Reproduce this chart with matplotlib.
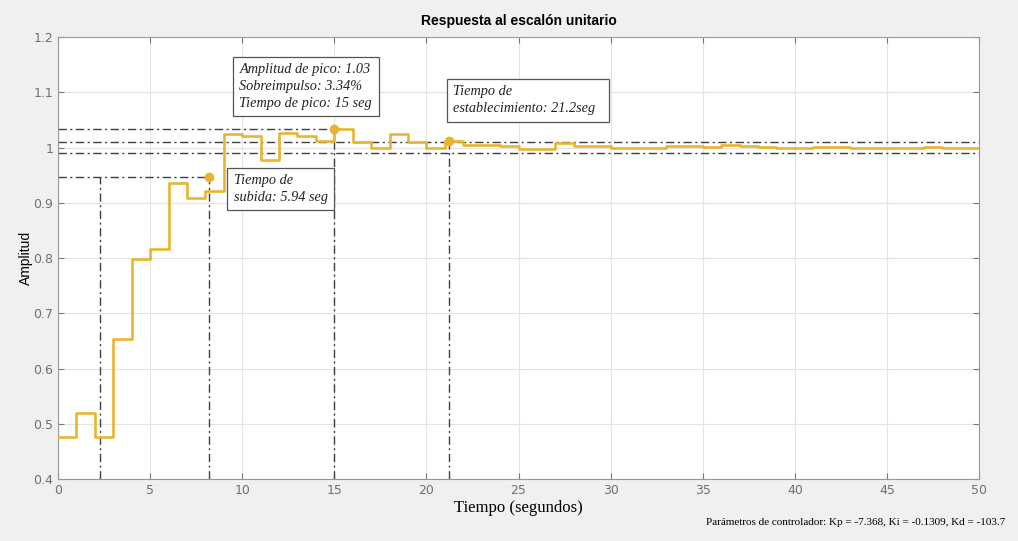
import matplotlib
matplotlib.use("Agg")
import matplotlib.pyplot as plt
import numpy as np

# datos (respuesta discreta, periodo 1 s)
tiempo = np.arange(0, 51, 1)
amplitud = [0.476, 0.519, 0.476, 0.654, 0.798, 0.816, 0.935, 0.908, 0.922, 1.024,
            1.020, 0.977, 1.026, 1.020, 1.011, 1.033, 1.010, 1.000, 1.024, 1.010,
            1.000, 1.011, 1.005, 1.005, 1.003, 0.998, 0.998, 1.008, 1.003, 1.003,
            0.999, 0.999, 0.999, 1.003, 1.002, 1.001, 1.004, 1.002, 1.001, 1.000,
            1.000, 1.001, 1.001, 1.000, 1.000, 0.999, 1.000, 1.001, 1.000, 1.000,
            1.000]

t_subida = [2.28, 8.2]
y_subida = 0.947
t_pico = 15
y_pico = 1.033
t_estab = 21.2
y_estab = 1.011
banda = [0.99, 1.01]

xticks = np.arange(0, 51, 5)
yticks = np.round(np.arange(0.4, 1.21, 0.1), 1)

color = "#E9B530"
gris = "#404040"
bg = "#f0f0f0"

fig = plt.figure(figsize=(10.18, 5.41), dpi=100, facecolor=bg)
ax = fig.add_axes([0.057, 0.1146, 0.9047, 0.817])
ax.set_facecolor("white")

ls = (0, (6, 2.5, 1.5, 2.5))
# lineas de referencia
ax.plot([0, t_subida[1]], [y_subida, y_subida], color=gris, lw=1, ls=ls)
ax.plot([t_subida[0], t_subida[0]], [0.4, y_subida], color=gris, lw=1, ls=ls)
ax.plot([t_subida[1], t_subida[1]], [0.4, y_subida], color=gris, lw=1, ls=ls)
ax.plot([0, t_pico], [y_pico, y_pico], color=gris, lw=1, ls=ls)
ax.plot([t_pico, t_pico], [0.4, y_pico], color=gris, lw=1, ls=ls)
for b in banda:
    ax.plot([0, 50], [b, b], color=gris, lw=1, ls=ls)
ax.plot([t_estab, t_estab], [0.4, y_estab], color=gris, lw=1, ls=ls)

ax.step(tiempo, amplitud, where="post", color=color, lw=1.9, zorder=3)
ax.plot([t_subida[1], t_pico, t_estab], [y_subida, y_pico, y_estab], "o",
        color=color, ms=6, zorder=4)

ax.set_xlim(0, 50)
ax.set_ylim(0.4, 1.2)
ax.set_xticks(xticks)
ax.set_yticks(yticks)
ax.set_yticklabels([f"{v:g}" for v in yticks])
ax.grid(True, color="#e3e3e3", lw=0.8)
ax.set_axisbelow(True)
ax.tick_params(direction="in", top=True, right=True, length=4, color="#777777",
               labelcolor="#707070", labelsize=9)
for s in ax.spines.values():
    s.set_color("#999999")
    s.set_linewidth(0.8)

ax.set_title("Respuesta al escalón unitario", fontsize=10, fontweight="bold",
             family="Liberation Sans", pad=9)
ax.set_xlabel("Tiempo (segundos)", fontsize=12, family="Liberation Serif", labelpad=2)
ax.set_ylabel("Amplitud", fontsize=10, family="Liberation Sans", labelpad=0)

caja = dict(boxstyle="square,pad=0.45", facecolor="white", edgecolor="#555555", lw=0.9)
fuente = dict(family="Liberation Serif", style="italic", fontsize=10.3, color="#222222",
              linespacing=1.4, ha="left", va="top", zorder=5)
ax.text(9.85, 1.153, "Amplitud de pico: 1.03\nSobreimpulso: 3.34%\nTiempo de pico: 15 seg",
        bbox=caja, **fuente)
ax.text(9.55, 0.952, "Tiempo de\nsubida: 5.94 seg", bbox=caja, **fuente)
ax.text(21.45, 1.113, "Tiempo de\nestablecimiento: 21.2seg  ", bbox=caja, **fuente)

fig.text(0.987, 0.035, "Parámetros de controlador: Kp = -7.368, Ki = -0.1309, Kd = -103.7",
         ha="right", va="center", fontsize=8, family="Liberation Serif")

fig.savefig("out.png", dpi=100, facecolor=bg)
